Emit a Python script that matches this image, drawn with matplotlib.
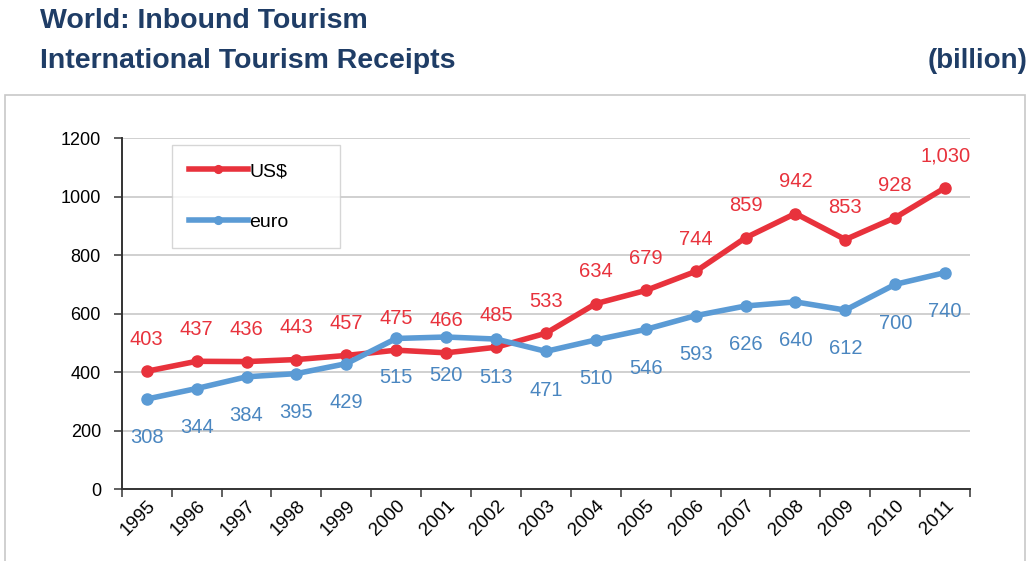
import numpy as np
import matplotlib.pyplot as plt
from matplotlib.patches import Rectangle

plt.rcParams['font.family'] = ['Liberation Sans', 'DejaVu Sans']

years = ['1995', '1996', '1997', '1998', '1999', '2000', '2001', '2002', '2003',
         '2004', '2005', '2006', '2007', '2008', '2009', '2010', '2011']
usd = [403, 437, 436, 443, 457, 475, 466, 485, 533, 634, 679, 744, 859, 942, 853, 928, 1030]
euro = [308, 344, 384, 395, 429, 515, 520, 513, 471, 510, 546, 593, 626, 640, 612, 700, 740]
usd_labels = ['403', '437', '436', '443', '457', '475', '466', '485', '533', '634', '679',
              '744', '859', '942', '853', '928', '1,030']

red = '#e8323c'
blue = '#5b9bd5'
title_col = '#1f3d66'

fig = plt.figure(figsize=(10.32, 5.61), dpi=100)

# outer frame around the chart
fig.patches.append(Rectangle((0.005, -0.01), 0.988, 0.84, transform=fig.transFigure,
                             fill=False, edgecolor='#c8c8c8', linewidth=1.2))

fig.text(0.039, 0.963, 'World: Inbound Tourism', fontsize=20.5, fontweight='bold',
         color=title_col, va='center')
fig.text(0.039, 0.891, 'International Tourism Receipts', fontsize=20.5, fontweight='bold',
         color=title_col, va='center')
fig.text(0.996, 0.891, '(billion)', fontsize=20, fontweight='bold',
         color=title_col, va='center', ha='right')

ax = fig.add_axes([0.118, 0.128, 0.822, 0.626])
x = np.arange(len(years))

ax.plot(x, usd, color=red, lw=4, marker='o', ms=8, label='US$', zorder=3)
ax.plot(x, euro, color=blue, lw=4, marker='o', ms=8, label='euro', zorder=3)

for xi, v, s in zip(x, usd, usd_labels):
    ax.annotate(s, (xi, v), xytext=(0, 23), textcoords='offset points',
                ha='center', va='center', color=red, fontsize=14.5)
for xi, v in zip(x, euro):
    ax.annotate(str(v), (xi, v), xytext=(0, -28), textcoords='offset points',
                ha='center', va='center', color='#4a86c0', fontsize=14.5)

ax.set_xlim(-0.5, len(years) - 0.5)
ax.set_ylim(0, 1200)
ax.set_yticks(range(0, 1201, 200))
ax.grid(axis='y', color='#c8c8c8', lw=1.2)
ax.set_axisbelow(True)

# ticks sit between categories, labels under each point
ax.set_xticks(np.arange(-0.5, len(years)), minor=False)
ax.set_xticklabels([])
ax.set_xticks(x, minor=True)
ax.set_xticklabels(years, minor=True, rotation=45, ha='right', va='top',
                   rotation_mode='anchor', fontsize=13.5)
ax.tick_params(axis='x', which='minor', length=0, pad=6)
ax.tick_params(axis='x', which='major', length=6, width=1.2, color='#444444', direction='out')
ax.tick_params(axis='y', length=6, width=1.2, color='#444444', labelsize=13, pad=9)

for side in ['top', 'right']:
    ax.spines[side].set_visible(False)
for side in ['left', 'bottom']:
    ax.spines[side].set_color('#333333')
    ax.spines[side].set_linewidth(1.4)

leg = ax.legend(loc='upper left', bbox_to_anchor=(0.059, 0.69, 0.198, 0.29),
                mode='expand', borderaxespad=0, fontsize=14,
                frameon=True, fancybox=False, edgecolor='#cccccc', handlelength=3.0,
                handletextpad=0.1, labelspacing=1.7, borderpad=0.9, markerscale=0.7)
leg.get_frame().set_linewidth(1.0)

fig.savefig('out.png', dpi=100)
